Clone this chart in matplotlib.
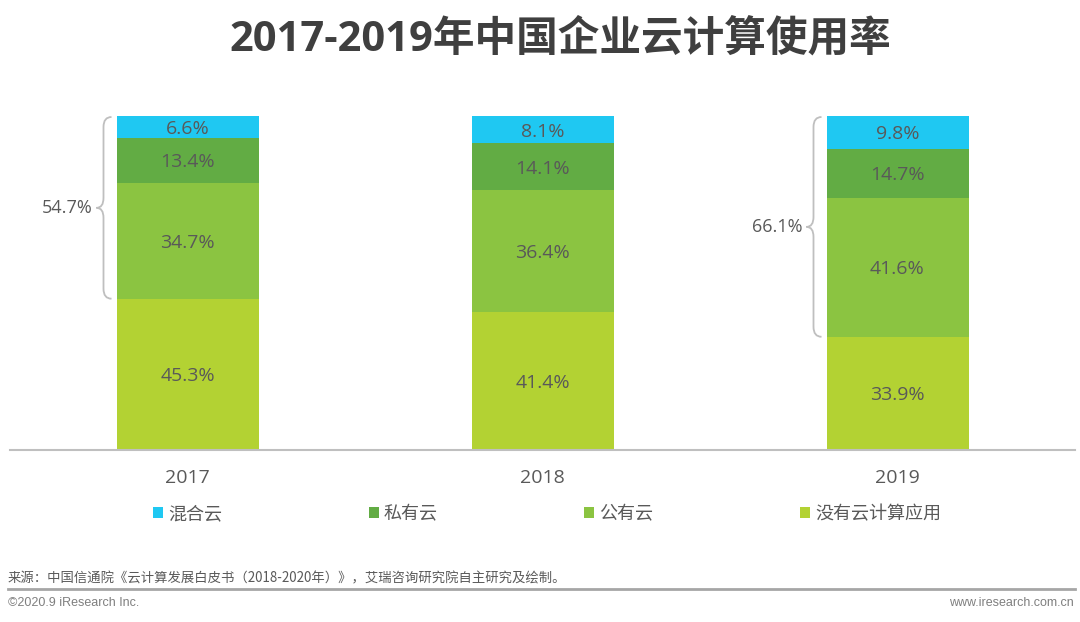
import matplotlib
matplotlib.use('Agg')
import matplotlib.pyplot as plt
from matplotlib.path import Path
from matplotlib.patches import PathPatch
import numpy as np

# ---- data ----
years = ['2017', '2018', '2019']
none_vals = [45.3, 41.4, 33.9]      # 没有云计算应用
public_vals = [34.7, 36.4, 41.6]    # 公有云
private_vals = [13.4, 14.1, 14.7]   # 私有云
hybrid_vals = [6.6, 8.1, 9.8]       # 混合云
series_names = ['没有云计算应用', '公有云', '私有云', '混合云']
brace_years = [0, 2]
title = '2017-2019年中国企业云计算使用率'
source = '来源：中国信通院《云计算发展白皮书（2018-2020年）》，艾瑞咨询研究院自主研究及绘制。'
footer_left = '©2020.9 iResearch Inc.'
footer_right = 'www.iresearch.com.cn'

colors = ['#B3D233', '#8BC441', '#62AC44', '#1FC8F2']
txt = '#595959'

plt.rcParams['font.family'] = ['Open Sans', 'Noto Sans CJK SC', 'DejaVu Sans']

W, H = 1080, 622
fig = plt.figure(figsize=(W / 100, H / 100), dpi=100)
ax = fig.add_axes([10 / W, 1 - 450 / H, 1065 / W, 334 / H])

pxx = 3.0 / 1065.0   # data units per px (x)
pxy = 100.0 / 334.0  # data units per px (y)

x = np.arange(len(years))
bottom = np.zeros(len(years))
bars = []
for vals, name, c in zip([none_vals, public_vals, private_vals, hybrid_vals], series_names, colors):
    vals = np.array(vals)
    b = ax.bar(x, vals, 0.4, bottom=bottom, color=c, label=name, linewidth=0)
    for xi, v, b0 in zip(x, vals, bottom):
        ax.text(xi, b0 + v / 2 - 2 * pxy, f'{v:.1f}%', ha='center', va='center',
                fontsize=14, color=txt)
    bottom = bottom + vals
    bars.append(b)

ax.set_xlim(-0.5, 2.5)
ax.set_ylim(0, 100)
for s in ['top', 'right', 'left']:
    ax.spines[s].set_visible(False)
ax.spines['bottom'].set_color('#BFBFBF')
ax.spines['bottom'].set_linewidth(1.5)
ax.set_yticks([])
ax.set_xticks(x)
ax.set_xticklabels(years, fontsize=14, color=txt)
ax.tick_params(axis='x', length=0, pad=14)


# ---- braces ----
def brace(xi, y0, y1, label):
    xe = xi - 0.2 - 5 * pxx
    xm = xi - 0.2 - 13 * pxx
    xt = xi - 0.2 - 20 * pxx
    r = 10 * pxy
    ym = (y0 + y1) / 2
    verts = [(xe, y1), (xm, y1), (xm, y1 - r),
             (xm, ym + r), (xm, ym), (xt, ym),
             (xm, ym), (xm, ym - r),
             (xm, y0 + r), (xm, y0), (xe, y0)]
    codes = [Path.MOVETO, Path.CURVE3, Path.CURVE3,
             Path.LINETO, Path.CURVE3, Path.CURVE3,
             Path.CURVE3, Path.CURVE3,
             Path.LINETO, Path.CURVE3, Path.CURVE3]
    ax.add_patch(PathPatch(Path(verts, codes), fill=False, edgecolor='#BFBFBF',
                           linewidth=1.3, clip_on=False))
    ax.text(xt - 4 * pxx, ym, label, ha='right', va='center', fontsize=13, color=txt)


for i in brace_years:
    top3 = public_vals[i] + private_vals[i] + hybrid_vals[i]
    brace(i, none_vals[i], none_vals[i] + top3 - 0.3, f'{top3:.1f}%')

# ---- legend ----
fig.legend(handles=bars[::-1], loc='center left',
           bbox_to_anchor=(153 / W, 1 - 514 / H), ncol=4, frameon=False,
           fontsize=13, labelcolor=txt, handlelength=0.55, handleheight=0.55,
           handletextpad=0.3, columnspacing=8.1, borderpad=0, borderaxespad=0)

# ---- title ----
fig.text(560 / W, 1 - 40 / H, title, ha='center', va='center', fontsize=30,
         fontweight='bold', color='#3F3F3F',
         family=['Open Sans', 'Noto Sans CJK SC'])

# ---- footer ----
fig.text(8 / W, 1 - 578 / H, source, ha='left', va='center', fontsize=9.6,
         color=txt, family=['Noto Sans CJK SC', 'DejaVu Sans'])
fig.add_artist(plt.Line2D([8 / W, 1075 / W], [1 - 589 / H, 1 - 589 / H],
                          color='#A6A6A6', linewidth=2, transform=fig.transFigure))
fig.text(8 / W, 1 - 603 / H, footer_left, ha='left', va='center', fontsize=9,
         color='#7F7F7F', family=['Liberation Sans', 'DejaVu Sans'])
fig.text(1074 / W, 1 - 603 / H, footer_right, ha='right', va='center', fontsize=9,
         color='#7F7F7F', family=['Liberation Sans', 'DejaVu Sans'])

fig.savefig('out.png', dpi=100, facecolor='white')
